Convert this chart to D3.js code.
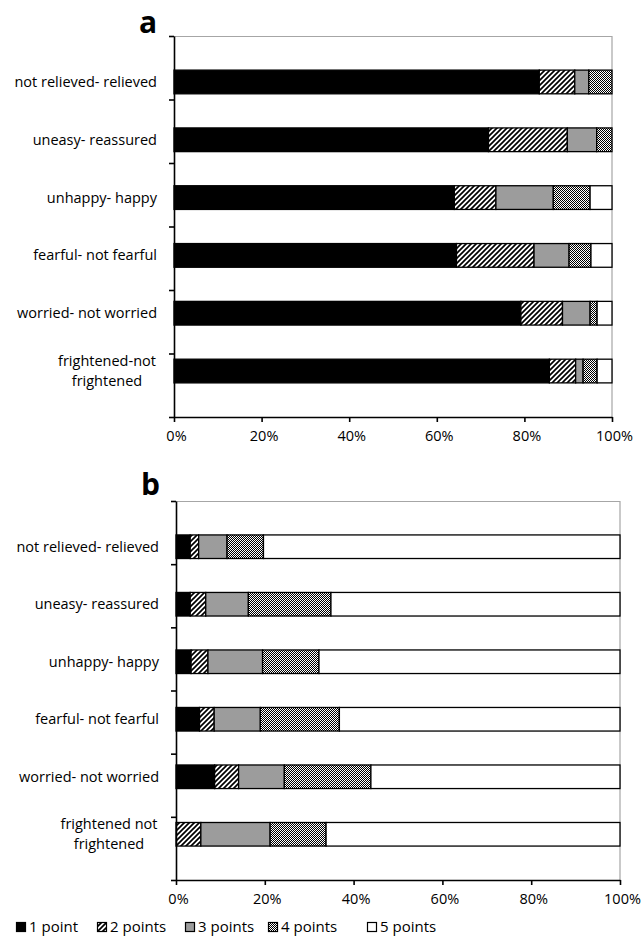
<!DOCTYPE html>
<html>
<head>
<meta charset="utf-8">
<script src="https://cdn.jsdelivr.net/npm/d3@7"></script>
<style>
  html, body { margin: 0; padding: 0; background: #fff; }
  svg { display: block; }
  text { font-family: "Open Sans", "Noto Sans", sans-serif; fill: #000; }
</style>
</head>
<body>
<svg id="chart" width="642" height="937"></svg>
<script>
// rating categories (top to bottom)
const CATEGORIES_A = ['not relieved- relieved', 'uneasy- reassured', 'unhappy- happy',
  'fearful- not fearful', 'worried- not worried', 'frightened-not\nfrightened'];
const CATEGORIES_B = ['not relieved- relieved', 'uneasy- reassured', 'unhappy- happy',
  'fearful- not fearful', 'worried- not worried', 'frightened not\nfrightened'];

const SERIES = ['1 point', '2 points', '3 points', '4 points', '5 points'];

// percentage per category, one value per series
const VALUES_A = [
  [83.4, 8.1, 3.2, 5.3, 0],
  [71.8, 18.0, 6.7, 3.5, 0],
  [64.0, 9.5, 13.1, 8.4, 5.0],
  [64.5, 17.7, 8.0, 5.0, 4.8],
  [79.2, 9.5, 6.3, 1.6, 3.4],
  [85.7, 6.0, 1.7, 3.2, 3.4]
];
const VALUES_B = [
  [3.2, 1.9, 6.4, 8.2, 80.3],
  [3.2, 3.5, 9.6, 18.6, 65.1],
  [3.4, 3.8, 12.3, 12.7, 67.8],
  [5.3, 3.3, 10.4, 17.8, 63.2],
  [8.7, 5.4, 10.3, 19.5, 56.1],
  [0, 5.6, 15.6, 12.6, 66.2]
];

const X_TICKS = [0, 20, 40, 60, 80, 100];

const svg = d3.select('#chart');

// fills: solid black, hatch, gray, checker, white
const defs = svg.append('defs');
const hatch = defs.append('pattern')
  .attr('id', 'hatch')
  .attr('patternUnits', 'userSpaceOnUse')
  .attr('width', 5).attr('height', 5);
hatch.append('rect').attr('width', 5).attr('height', 5).attr('fill', '#fff');
hatch.append('path')
  .attr('d', 'M-1,1 l2,-2 M0,5 l5,-5 M4,6 l2,-2')
  .attr('stroke', '#000').attr('stroke-width', 1.7);

const checker = defs.append('pattern')
  .attr('id', 'checker')
  .attr('patternUnits', 'userSpaceOnUse')
  .attr('width', 2).attr('height', 2);
checker.append('rect').attr('width', 2).attr('height', 2).attr('fill', '#fff');
checker.append('rect').attr('width', 1).attr('height', 1).attr('fill', '#000');
checker.append('rect').attr('x', 1).attr('y', 1).attr('width', 1).attr('height', 1).attr('fill', '#000');

const FILLS = ['#000', 'url(#hatch)', '#9c9c9c', 'url(#checker)', '#fff'];

function drawPanel(cfg) {
  const { left, top, width, height, categories, values, letter, letterY } = cfg;
  const g = svg.append('g').attr('transform', `translate(${left},${top})`);

  const x = d3.scaleLinear().domain([0, 100]).range([0, width]);
  const y = d3.scaleBand().domain(categories).range([0, height]).padding(0.59);
  const yTicks = d3.scaleLinear().domain([0, categories.length]).range([0, height]);

  // plot frame (top and right)
  g.append('path')
    .attr('d', `M0,0.5 H${width} V${height}`)
    .attr('fill', 'none').attr('stroke', '#a6a6a6').attr('stroke-width', 1.2);

  const rows = values.map((v, i) => {
    const o = { cat: categories[i] };
    SERIES.forEach((s, j) => { o[s] = v[j]; });
    return o;
  });
  const stacked = d3.stack().keys(SERIES)(rows);

  g.selectAll('g.series')
    .data(stacked)
    .join('g')
    .attr('class', 'series')
    .attr('fill', (d, i) => FILLS[i])
    .selectAll('rect')
    .data(d => d.filter(p => p[1] - p[0] > 0))
    .join('rect')
    .attr('x', d => x(d[0]))
    .attr('width', d => x(d[1]) - x(d[0]))
    .attr('y', d => y(d.data.cat))
    .attr('height', y.bandwidth())
    .attr('stroke', '#000')
    .attr('stroke-width', 1.3);

  // y axis with ticks on category boundaries
  const yAxis = g.append('g')
    .call(d3.axisLeft(yTicks).ticks(categories.length).tickFormat('').tickSize(5).tickSizeOuter(0));
  yAxis.selectAll('line').attr('stroke', '#000').attr('stroke-width', 1.6);
  yAxis.select('.domain').attr('stroke', '#000').attr('stroke-width', 1.6);

  // category labels
  categories.forEach(c => {
    const lines = c.split('\n');
    const cy = y(c) + y.bandwidth() / 2;
    const lx = lines.length > 1 ? -67 : -17;
    const t = g.append('text')
      .attr('font-size', 14.5)
      .attr('text-anchor', lines.length > 1 ? 'middle' : 'end')
      .attr('y', cy - (lines.length - 1) * 10);
    lines.forEach((ln, k) => {
      t.append('tspan')
        .attr('x', lx)
        .attr('dy', k === 0 ? '0.35em' : 20)
        .text(ln);
    });
  });

  // x axis
  const xAxis = g.append('g')
    .attr('transform', `translate(0,${height})`)
    .call(d3.axisBottom(x).tickValues(X_TICKS).tickFormat(d => d + '%').tickSize(5).tickSizeOuter(0).tickPadding(9));
  xAxis.selectAll('line').attr('stroke', '#000').attr('stroke-width', 1.6);
  xAxis.select('.domain').attr('stroke', '#000').attr('stroke-width', 1.6);
  xAxis.selectAll('text')
    .attr('font-size', 14.5)
    .attr('dx', 2)
    .attr('font-family', '"Open Sans", sans-serif')
    .attr('fill', '#000');

  svg.append('text')
    .attr('x', left - 35)
    .attr('y', letterY)
    .attr('font-family', 'Liberation Sans, Arial, sans-serif')
    .attr('font-weight', 'bold')
    .attr('font-size', 30)
    .text(letter);
}

drawPanel({ left: 174, top: 36, width: 438, height: 381, categories: CATEGORIES_A, values: VALUES_A, letter: 'a', letterY: 33 });
drawPanel({ left: 176, top: 501, width: 444, height: 379, categories: CATEGORIES_B, values: VALUES_B, letter: 'b', letterY: 495 });

// legend
const legend = svg.append('g').attr('transform', 'translate(16,927)');
const LEGEND_X = [0, 81, 169, 252, 351];
SERIES.forEach((s, i) => {
  const item = legend.append('g').attr('transform', `translate(${LEGEND_X[i]},0)`);
  item.append('rect')
    .attr('x', 0.5).attr('y', -4.5).attr('width', 9).attr('height', 9)
    .attr('fill', FILLS[i]).attr('stroke', '#000').attr('stroke-width', 1.2);
  item.append('text')
    .attr('x', 13).attr('y', 0).attr('dy', '0.35em')
    .attr('font-size', 15)
    .text(s);
});
</script>
</body>
</html>
